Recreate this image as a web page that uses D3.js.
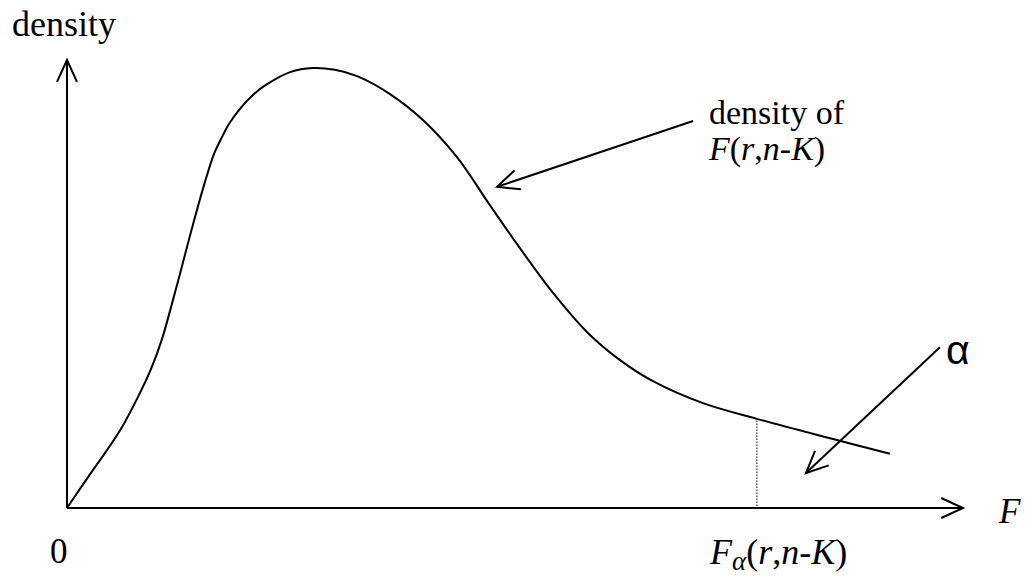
<!DOCTYPE html>
<html>
<head>
<meta charset="utf-8">
<script src="https://cdn.jsdelivr.net/npm/d3@7"></script>
<style>
  html, body { margin: 0; padding: 0; background: #fff; }
  svg { display: block; }
  text { font-family: "Liberation Serif", "Times New Roman", serif; fill: #000; }
</style>
</head>
<body>
<svg id="chart" width="1026" height="579"></svg>
<script>
// F values and density (F axis 0..4, density 0..1)
const fValues = [0, 0.094, 0.17, 0.246, 0.317, 0.379, 0.424, 0.46, 0.504, 0.563, 0.616, 0.656, 0.688,
  0.723, 0.772, 0.83, 0.893, 0.996, 1.098, 1.196, 1.295, 1.442, 1.589, 1.741, 1.888, 2.022, 2.17,
  2.321, 2.469, 2.616, 2.839, 3.08, 3.42, 3.674]
const densityValues = [0, 0.069, 0.123, 0.181, 0.248, 0.315, 0.377, 0.44, 0.522, 0.634, 0.728, 0.79, 0.824,
  0.857, 0.891, 0.922, 0.946, 0.973, 0.982, 0.978, 0.964, 0.924, 0.866, 0.783, 0.676, 0.58, 0.48,
  0.393, 0.33, 0.283, 0.234, 0.199, 0.154, 0.121]

// critical value F_alpha (index into the curve)
const alphaIndex = 31

// annotation arrows, [from, to] in (F, density)
const curveArrow = [[2.795, 0.864], [1.92, 0.717]]
const alphaArrow = [[3.897, 0.359], [3.299, 0.078]]

const svg = d3.select('#chart')

const x = d3.scaleLinear().domain([0, 4]).range([67, 963])
const y = d3.scaleLinear().domain([0, 1]).range([508, 60])

const data = fValues.map((f, i) => ({ f: f, d: densityValues[i] }))

// open "V" arrow head at the end of a segment
function arrow(g, x1, y1, x2, y2, width) {
  const ang = Math.atan2(y2 - y1, x2 - x1)
  const len = 24, spread = 0.43
  g.append('line')
    .attr('x1', x1).attr('y1', y1).attr('x2', x2).attr('y2', y2)
    .attr('stroke', '#000').attr('stroke-width', width)
  g.append('path')
    .attr('d', `M${x2 - len * Math.cos(ang - spread)},${y2 - len * Math.sin(ang - spread)}L${x2},${y2}L${x2 - len * Math.cos(ang + spread)},${y2 - len * Math.sin(ang + spread)}`)
    .attr('fill', 'none').attr('stroke', '#000').attr('stroke-width', width)
}

const axes = svg.append('g')
arrow(axes, x(0), y(0), x(0), y(1), 2)
arrow(axes, x(0), y(0), x(4), y(0), 2)

// dotted line at F_alpha
svg.append('line')
  .attr('x1', x(fValues[alphaIndex])).attr('x2', x(fValues[alphaIndex]))
  .attr('y1', y(0) - 2).attr('y2', y(densityValues[alphaIndex]))
  .attr('stroke', '#000').attr('stroke-width', 1).attr('stroke-dasharray', '1.5,1.5')

const line = d3.line()
  .x(d => x(d.f))
  .y(d => y(d.d))
  .curve(d3.curveCatmullRom)

svg.append('path')
  .datum(data)
  .attr('d', line)
  .attr('fill', 'none')
  .attr('stroke', '#000')
  .attr('stroke-width', 2)

const notes = svg.append('g')
arrow(notes, x(curveArrow[0][0]), y(curveArrow[0][1]), x(curveArrow[1][0]), y(curveArrow[1][1]), 2)
arrow(notes, x(alphaArrow[0][0]), y(alphaArrow[0][1]), x(alphaArrow[1][0]), y(alphaArrow[1][1]), 2)

// labels
svg.append('text').attr('x', 12).attr('y', 36).attr('font-size', 36).text('density')
svg.append('text').attr('x', 50).attr('y', 563).attr('font-size', 35).text('0')
svg.append('text').attr('x', 999).attr('y', 523).attr('font-size', 35).attr('font-style', 'italic').text('F')

svg.append('text').attr('x', 709).attr('y', 124).attr('font-size', 34).text('density of')
const fr = svg.append('text').attr('x', 709).attr('y', 160).attr('font-size', 34)
fr.append('tspan').attr('font-style', 'italic').text('F')
fr.append('tspan').text('(')
fr.append('tspan').attr('font-style', 'italic').text('r')
fr.append('tspan').text(',')
fr.append('tspan').attr('font-style', 'italic').text('n')
fr.append('tspan').text('-')
fr.append('tspan').attr('font-style', 'italic').text('K')
fr.append('tspan').text(')')

const fa = svg.append('text').attr('x', 710).attr('y', 564).attr('font-size', 36)
fa.append('tspan').attr('font-style', 'italic').text('F')
fa.append('tspan').attr('font-style', 'italic').attr('dy', 6).attr('font-size', 27).text('α')
fa.append('tspan').attr('dy', -6).text('(')
fa.append('tspan').attr('font-style', 'italic').text('r')
fa.append('tspan').text(',')
fa.append('tspan').attr('font-style', 'italic').text('n')
fa.append('tspan').text('-')
fa.append('tspan').attr('font-style', 'italic').text('K')
fa.append('tspan').text(')')

svg.append('text').attr('x', 946).attr('y', 364).attr('font-size', 41)
  .style('font-family', '"Liberation Sans", Arial, sans-serif').text('α')
</script>
</body>
</html>
